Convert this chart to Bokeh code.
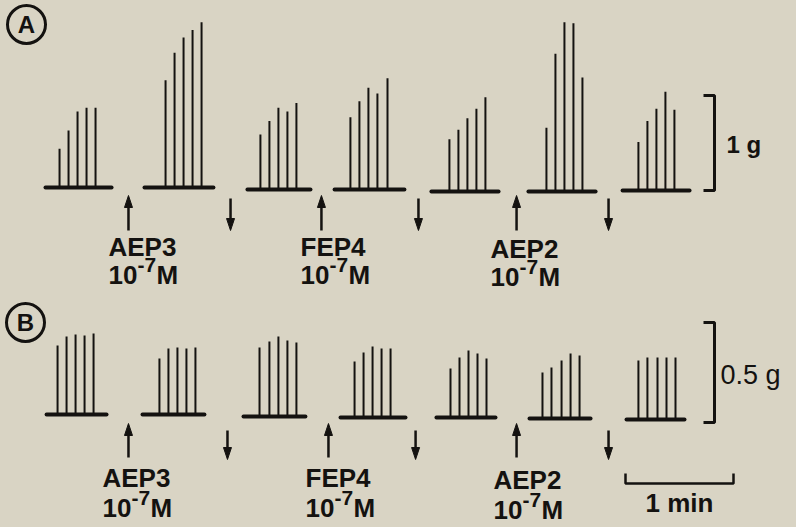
from bokeh.plotting import figure
from bokeh.layouts import column
from bokeh.models import Range1d, Label
from bokeh.embed import file_html
from bokeh.resources import INLINE

# ---------------- data (times in s, forces in g) ----------------
drugs = ["AEP3", "FEP4", "AEP2"]
conc_base, conc_exp, conc_unit = "10", "-7", "M"

# Panel A : spike (contraction) times and amplitudes for each burst
a_spike_times = [
    [32.8, 37.8, 42.8, 47.8, 52.8],
    [91.7, 96.7, 101.7, 106.7, 111.7],
    [144.4, 149.4, 154.4, 159.4, 164.4],
    [194.4, 199.4, 204.4, 209.4, 215.0],
    [249.4, 254.4, 259.4, 264.4, 269.4],
    [303.3, 308.3, 313.3, 318.3, 323.3],
    [354.4, 359.4, 364.4, 369.4, 374.4],
]
a_spike_amps = [
    [0.41, 0.60, 0.80, 0.84, 0.84],
    [1.13, 1.42, 1.58, 1.66, 1.74],
    [0.58, 0.72, 0.86, 0.82, 0.91],
    [0.76, 0.93, 1.07, 1.01, 1.17],
    [0.55, 0.65, 0.77, 0.87, 0.99],
    [0.67, 1.45, 1.78, 1.77, 1.20],
    [0.51, 0.73, 0.86, 1.04, 0.85],
]
a_burst_start = [25.0, 80.0, 137.2, 185.6, 239.4, 293.3, 345.6]
a_burst_end = [61.7, 118.3, 172.2, 224.4, 276.7, 330.6, 382.8]
a_burst_level = [0.02, 0.02, 0.0, 0.0, -0.02, -0.02, -0.01]
a_drug_on = [71.1, 178.3, 286.7]
a_washout = [127.8, 232.2, 337.8]

# Panel B
b_spike_times = [
    [31.7, 36.7, 41.7, 46.7, 51.7],
    [88.3, 93.3, 98.3, 103.3, 108.3],
    [143.9, 149.4, 154.4, 159.4, 164.4],
    [196.7, 201.7, 206.7, 211.7, 216.7],
    [250.0, 255.0, 260.0, 265.0, 270.0],
    [301.1, 306.1, 311.7, 316.7, 321.7],
    [354.4, 359.4, 365.0, 370.0, 375.0],
]
b_spike_amps = [
    [0.345, 0.39, 0.40, 0.395, 0.405],
    [0.28, 0.33, 0.335, 0.33, 0.335],
    [0.345, 0.375, 0.40, 0.38, 0.37],
    [0.28, 0.325, 0.355, 0.345, 0.345],
    [0.245, 0.30, 0.335, 0.32, 0.295],
    [0.23, 0.255, 0.29, 0.325, 0.315],
    [0.295, 0.31, 0.31, 0.31, 0.31],
]
b_burst_start = [25.6, 78.9, 135.0, 188.9, 242.2, 293.9, 347.8]
b_burst_end = [58.9, 113.3, 169.4, 225.0, 275.0, 327.8, 380.0]
b_burst_level = [0.01, 0.01, 0.0, -0.005, -0.005, -0.01, -0.015]
b_drug_on = [71.1, 182.2, 286.7]
b_washout = [126.1, 230.6, 337.8]

force_bar_a, force_label_a = 1.0, "1 g"
force_bar_b, force_label_b = 0.5, "0.5 g"
time_bar, time_label = 60.0, "1 min"
panel_names = ["A", "B"]

# ---------------- layout / style ----------------
BG = "#d9d4c4"
INK = "#141210"
FONT = "Liberation Sans"
W = 796
PX_PER_S = 1.8
xr = Range1d(0, W / PX_PER_S)


def xd(px):
    return px / PX_PER_S


def make_panel(top, h, base, ppg):
    def yd(py):
        return (base - py) / ppg
    p = figure(width=W, height=h, x_range=xr, y_range=Range1d(yd(top + h), yd(top)),
               output_backend="svg", toolbar_location=None, min_border=0,
               x_axis_location=None, y_axis_location=None)
    p.grid.grid_line_color = None
    p.outline_line_color = None
    p.background_fill_color = BG
    p.border_fill_color = BG
    return p, yd


def label(p, x, y, text, size, bold=True, align="left"):
    # y is the vertical centre of the text
    p.add_layout(Label(x=x, y=y, text=text, text_font=FONT, text_font_size=f"{size}px",
                       text_font_style="bold" if bold else "normal", text_color=INK,
                       text_align=align, text_baseline="middle"))


def draw_bursts(p, times, amps, starts, ends, levels):
    p.segment(x0=starts, y0=levels, x1=ends, y1=levels, line_color=INK,
              line_width=4, line_cap="round")
    xs, y0, y1 = [], [], []
    for t_list, a_list, lv in zip(times, amps, levels):
        for t, a in zip(t_list, a_list):
            xs.append(t)
            y0.append(lv)
            y1.append(lv + a)
    p.segment(x0=xs, y0=y0, x1=xs, y1=y1, line_color=INK, line_width=2)


def draw_arrow(p, yd, ppg, x, tip_py, tail_py):
    tip, tail = yd(tip_py), yd(tail_py)
    sign = 1 if tip > tail else -1
    hb = tip - sign * 12 / ppg
    hw = 4 / PX_PER_S
    p.segment(x0=[x], y0=[tail], x1=[x], y1=[hb], line_color=INK, line_width=2.5)
    p.patch([x - hw, x, x + hw], [hb, tip, hb], fill_color=INK, line_color=INK, line_width=1)


def draw_drug_labels(p, yd, lefts, name_mid, conc_mid):
    for name, lx, nm, cm in zip(drugs, lefts, name_mid, conc_mid):
        label(p, xd(lx), yd(nm), name, 26)
        label(p, xd(lx), yd(cm), conc_base, 26)
        label(p, xd(lx + 29), yd(cm - 10), conc_exp, 21)
        label(p, xd(lx + 48), yd(cm), conc_unit, 26)


def badge(p, yd, cx, cy, letter):
    p.scatter(x=[xd(cx)], y=[yd(cy)], size=38, marker="circle", fill_color=None,
              line_color=INK, line_width=3)
    label(p, xd(cx), yd(cy), letter, 24, align="center")


# ---------------- panel A ----------------
A_PPG = 95
pA, ydA = make_panel(0, 298, 189, A_PPG)
badge(pA, ydA, 26, 24, panel_names[0])
draw_bursts(pA, a_spike_times, a_spike_amps, a_burst_start, a_burst_end, a_burst_level)
for t in a_drug_on:
    draw_arrow(pA, ydA, A_PPG, t, 195, 230)
for t in a_washout:
    draw_arrow(pA, ydA, A_PPG, t, 230, 198)
draw_drug_labels(pA, ydA, [108, 300, 490], [246, 246, 248], [274, 274, 276])
# force calibration bar A
bx = xd(714)
tick = 11 / PX_PER_S
y0 = -0.01
pA.line(x=[bx - tick, bx, bx, bx - tick], y=[y0 + force_bar_a, y0 + force_bar_a, y0, y0],
        line_color=INK, line_width=3)
label(pA, xd(726), ydA(144), force_label_a, 24)

# ---------------- panel B ----------------
B_PPG = 200
pB, ydB = make_panel(298, 229, 416, B_PPG)
badge(pB, ydB, 25, 322, panel_names[1])
draw_bursts(pB, b_spike_times, b_spike_amps, b_burst_start, b_burst_end, b_burst_level)
for t in b_drug_on:
    draw_arrow(pB, ydB, B_PPG, t, 423, 457)
for t in b_washout:
    draw_arrow(pB, ydB, B_PPG, t, 459, 430)
draw_drug_labels(pB, ydB, [102, 305, 493], [477, 477, 479], [507, 507, 509])
# force calibration bar B
y0 = -0.03
pB.line(x=[bx - tick, bx, bx, bx - tick], y=[y0 + force_bar_b, y0 + force_bar_b, y0, y0],
        line_color=INK, line_width=3)
label(pB, xd(720), ydB(374), force_label_b, 27, bold=False)
# time bar
t0 = xd(625)
yb = ydB(483)
tk = 10 / B_PPG
pB.line(x=[t0, t0, t0 + time_bar, t0 + time_bar], y=[yb + tk, yb, yb, yb + tk],
        line_color=INK, line_width=2.5)
label(pB, t0 + time_bar / 2, ydB(502), time_label, 26, align="center")

layout = column(pA, pB, spacing=0, styles={"background-color": BG})
open("out.html", "w").write(file_html(layout, INLINE))
